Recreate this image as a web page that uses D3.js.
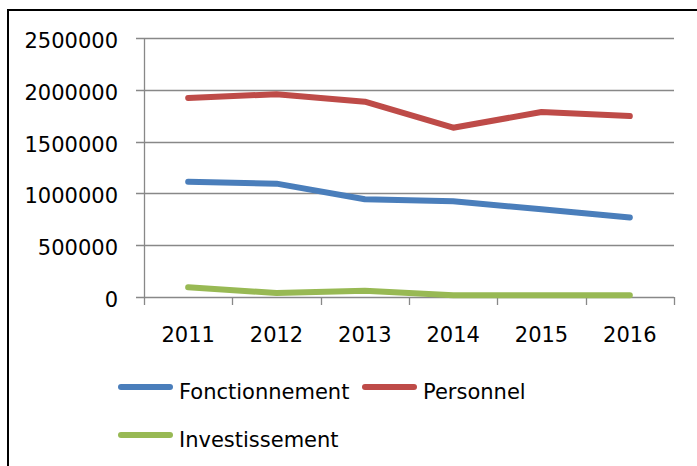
<!DOCTYPE html>
<html>
<head>
<meta charset="utf-8">
<script src="https://cdn.jsdelivr.net/npm/d3@7"></script>
<style>
  body { margin: 0; background: #fff; }
  svg { display: block; }
  text { font-family: "DejaVu Sans", sans-serif; fill: #000; }
</style>
</head>
<body>
<div id="chart"></div>
<script>
// données
const annees = ["2011", "2012", "2013", "2014", "2015", "2016"];
const fonctionnement = [1113000, 1094000, 943000, 924000, 847000, 768000];
const personnel = [1921000, 1957000, 1885000, 1634000, 1786000, 1747000];
const investissement = [94000, 39000, 61000, 16000, 16000, 16000];
const yTicks = [0, 500000, 1000000, 1500000, 2000000, 2500000];

const series = [
  { nom: "Fonctionnement", valeurs: fonctionnement, couleur: "#4a7ebb" },
  { nom: "Personnel", valeurs: personnel, couleur: "#be4b48" },
  { nom: "Investissement", valeurs: investissement, couleur: "#98b954" }
];

const width = 697, height = 466;
const svg = d3.select("#chart").append("svg")
  .attr("width", width)
  .attr("height", height);

// cadre
svg.append("rect")
  .attr("x", 8).attr("y", 10)
  .attr("width", 700).attr("height", 470)
  .attr("fill", "none")
  .attr("stroke", "#000")
  .attr("stroke-width", 2);

const plot = { left: 144, right: 674, top: 38, bottom: 297 };

const x = d3.scaleBand().domain(annees).range([plot.left, plot.right]);
const y = d3.scaleLinear().domain([0, 2500000]).range([plot.bottom, plot.top]);

// grille horizontale
svg.append("g")
  .selectAll("line")
  .data(yTicks)
  .join("line")
  .attr("x1", plot.left - 8)
  .attr("x2", plot.right)
  .attr("y1", d => Math.round(y(d)) + 0.5)
  .attr("y2", d => Math.round(y(d)) + 0.5)
  .attr("stroke", "#888")
  .attr("stroke-width", 1.3);

// axe vertical
svg.append("line")
  .attr("x1", plot.left + 0.5).attr("x2", plot.left + 0.5)
  .attr("y1", plot.top).attr("y2", plot.bottom + 8)
  .attr("stroke", "#888")
  .attr("stroke-width", 1.3);

// graduations de l'axe x
const bornes = annees.map(a => x(a)).concat([x.range()[1]]);
svg.append("g")
  .selectAll("line")
  .data(bornes.slice(1))
  .join("line")
  .attr("x1", d => Math.round(d) + 0.5)
  .attr("x2", d => Math.round(d) + 0.5)
  .attr("y1", plot.bottom)
  .attr("y2", plot.bottom + 8)
  .attr("stroke", "#888")
  .attr("stroke-width", 1.3);

// étiquettes y
svg.append("g")
  .selectAll("text")
  .data(yTicks)
  .join("text")
  .attr("x", 118)
  .attr("y", d => y(d) + 10)
  .attr("text-anchor", "end")
  .style("font-size", "21px")
  .text(d => d);

// étiquettes x
svg.append("g")
  .selectAll("text")
  .data(annees)
  .join("text")
  .attr("x", d => x(d) + x.bandwidth() / 2)
  .attr("y", 342)
  .attr("text-anchor", "middle")
  .style("font-size", "21px")
  .text(d => d);

// courbes
const ligne = d3.line()
  .x((d, i) => x(annees[i]) + x.bandwidth() / 2)
  .y(d => y(d));

svg.append("g")
  .selectAll("path")
  .data(series)
  .join("path")
  .attr("d", d => ligne(d.valeurs))
  .attr("fill", "none")
  .attr("stroke", d => d.couleur)
  .attr("stroke-width", 6)
  .attr("stroke-linecap", "round")
  .attr("stroke-linejoin", "round");

// légende
const legende = [
  { s: series[0], x: 118, y: 387 },
  { s: series[1], x: 362, y: 387 },
  { s: series[2], x: 118, y: 435 }
];
const leg = svg.append("g")
  .selectAll("g")
  .data(legende)
  .join("g")
  .attr("transform", d => `translate(${d.x},${d.y})`);

leg.append("line")
  .attr("x1", 3).attr("x2", 52)
  .attr("y1", 0).attr("y2", 0)
  .attr("stroke", d => d.s.couleur)
  .attr("stroke-width", 6)
  .attr("stroke-linecap", "round");

leg.append("text")
  .attr("x", 61)
  .attr("y", 12)
  .style("font-size", "21px")
  .text(d => d.s.nom);
</script>
</body>
</html>
